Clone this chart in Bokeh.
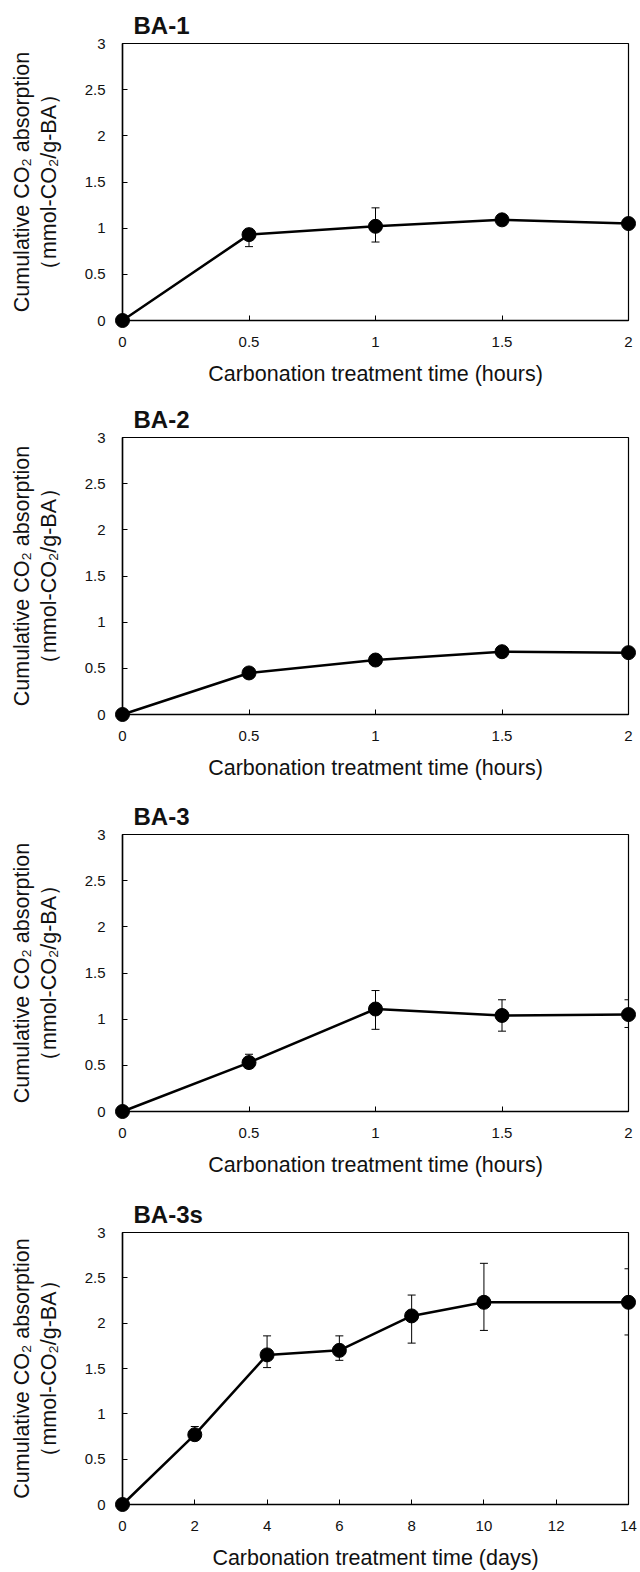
from bokeh.plotting import figure
from bokeh.models import (Range1d, FixedTicker, CustomJSTickFormatter, Title,
                          Whisker, ColumnDataSource, TeeHead)
from bokeh.layouts import column
from bokeh.embed import file_html
from bokeh.resources import INLINE

# ---------------- data ----------------
hours = [0, 0.5, 1, 1.5, 2]
days = [0, 2, 4, 6, 8, 10, 14]

ba1 = [0, 0.93, 1.02, 1.09, 1.05]
ba1_up = [0, 0.06, 0.20, 0.04, 0.02]
ba1_dn = [0, 0.13, 0.17, 0.06, 0.02]

ba2 = [0, 0.45, 0.59, 0.68, 0.67]
ba2_up = [0, 0.02, 0.03, 0.02, 0.01]
ba2_dn = [0, 0.02, 0.05, 0.02, 0.01]

ba3 = [0, 0.53, 1.11, 1.04, 1.05]
ba3_up = [0, 0.09, 0.20, 0.17, 0.16]
ba3_dn = [0, 0.05, 0.22, 0.17, 0.14]

ba3s = [0, 0.77, 1.65, 1.70, 2.08, 2.23, 2.23]
ba3s_up = [0, 0.09, 0.21, 0.16, 0.23, 0.43, 0.37]
ba3s_dn = [0, 0.06, 0.14, 0.11, 0.30, 0.31, 0.36]

y_ticks = [0, 0.5, 1, 1.5, 2, 2.5, 3]
hour_ticks = [0, 0.5, 1, 1.5, 2]
day_ticks = [0, 2, 4, 6, 8, 10, 12, 14]

titles = ["BA-1", "BA-2", "BA-3", "BA-3s"]
xlabel_hours = "Carbonation treatment time (hours)"
xlabel_days = "Carbonation treatment time (days)"
ylabel_1 = "Cumulative CO\u2082 absorption"
ylabel_2 = "\uff08mmol-CO\u2082/g-BA\uff09"

FONT = "Liberation Sans"
FRAME_H = 277
FRAME_L = 122
FRAME_R = 12
TOP = 43
TXT = "#111111"


def make_panel(title, xs, ys, up, dn, xticks, xmax, xlabel, height):
    p = figure(width=640, height=height, output_backend="svg",
               toolbar_location=None,
               x_range=Range1d(0, xmax), y_range=Range1d(0, 3),
               min_border_left=FRAME_L, min_border_right=FRAME_R,
               min_border_top=TOP, min_border_bottom=height - TOP - FRAME_H)
    p.grid.visible = False
    p.outline_line_color = "black"
    p.outline_line_width = 1.2
    p.background_fill_color = "white"
    p.border_fill_color = "white"

    # panel title
    p.title.text = title
    p.title.align = "left"
    p.title.offset = 11
    p.title.text_font = FONT
    p.title.text_font_size = "24px"
    p.title.text_font_style = "bold"
    p.title.text_color = TXT
    p.title.standoff = 10

    fmt = CustomJSTickFormatter(code="return tick.toString();")
    for ax, ticks in ((p.xaxis[0], xticks), (p.yaxis[0], y_ticks)):
        ax.ticker = FixedTicker(ticks=ticks)
        ax.formatter = fmt
        ax.major_tick_in = 5
        ax.major_tick_out = 0
        ax.minor_tick_in = 0
        ax.minor_tick_out = 0
        ax.axis_line_width = 1.5
        ax.axis_line_color = "black"
        ax.major_tick_line_color = "black"
        ax.major_label_text_font = FONT
        ax.major_label_text_font_size = "15px"
        ax.major_label_text_color = TXT
    p.xaxis.major_label_standoff = 16
    p.yaxis.major_label_standoff = 17

    p.xaxis.axis_label = xlabel
    p.xaxis.axis_label_text_font = FONT
    p.xaxis.axis_label_text_font_size = "21.5px"
    p.xaxis.axis_label_text_font_style = "normal"
    p.xaxis.axis_label_text_color = TXT
    p.xaxis.axis_label_standoff = 12

    # inner line of the y title on the axis, outer line as a side title
    p.yaxis.axis_label = ylabel_2
    p.yaxis.axis_label_text_font = FONT
    p.yaxis.axis_label_text_font_size = "21.5px"
    p.yaxis.axis_label_text_font_style = "normal"
    p.yaxis.axis_label_text_color = TXT
    p.yaxis.axis_label_standoff = 21
    p.add_layout(Title(text=ylabel_1, align="center", text_font=FONT,
                       text_font_size="21.5px", text_font_style="normal",
                       text_color=TXT, standoff=0), "left")

    lo = [y - d for y, d in zip(ys, dn)]
    hi = [y + u for y, u in zip(ys, up)]
    src = ColumnDataSource(dict(x=xs, y=ys, lower=lo, upper=hi))
    wk = Whisker(base="x", upper="upper", lower="lower", source=src,
                 line_color="black", line_width=1,
                 upper_head=TeeHead(size=8, line_color="black", line_width=1),
                 lower_head=TeeHead(size=8, line_color="black", line_width=1),
                 level="annotation")
    p.add_layout(wk)

    p.line("x", "y", source=src, line_color="black", line_width=2.5,
           level="overlay")
    p.scatter("x", "y", source=src, size=14, fill_color="black",
              line_color="black", level="overlay")
    return p


p1 = make_panel(titles[0], hours, ba1, ba1_up, ba1_dn, hour_ticks, 2, xlabel_hours, 394)
p2 = make_panel(titles[1], hours, ba2, ba2_up, ba2_dn, hour_ticks, 2, xlabel_hours, 397)
p3 = make_panel(titles[2], hours, ba3, ba3_up, ba3_dn, hour_ticks, 2, xlabel_hours, 398)
p4 = make_panel(titles[3], days, ba3s, ba3s_up, ba3s_dn, day_ticks, 14, xlabel_days, 383)

layout = column(p1, p2, p3, p4, spacing=0)
open("out.html", "w").write(file_html(layout, INLINE))
